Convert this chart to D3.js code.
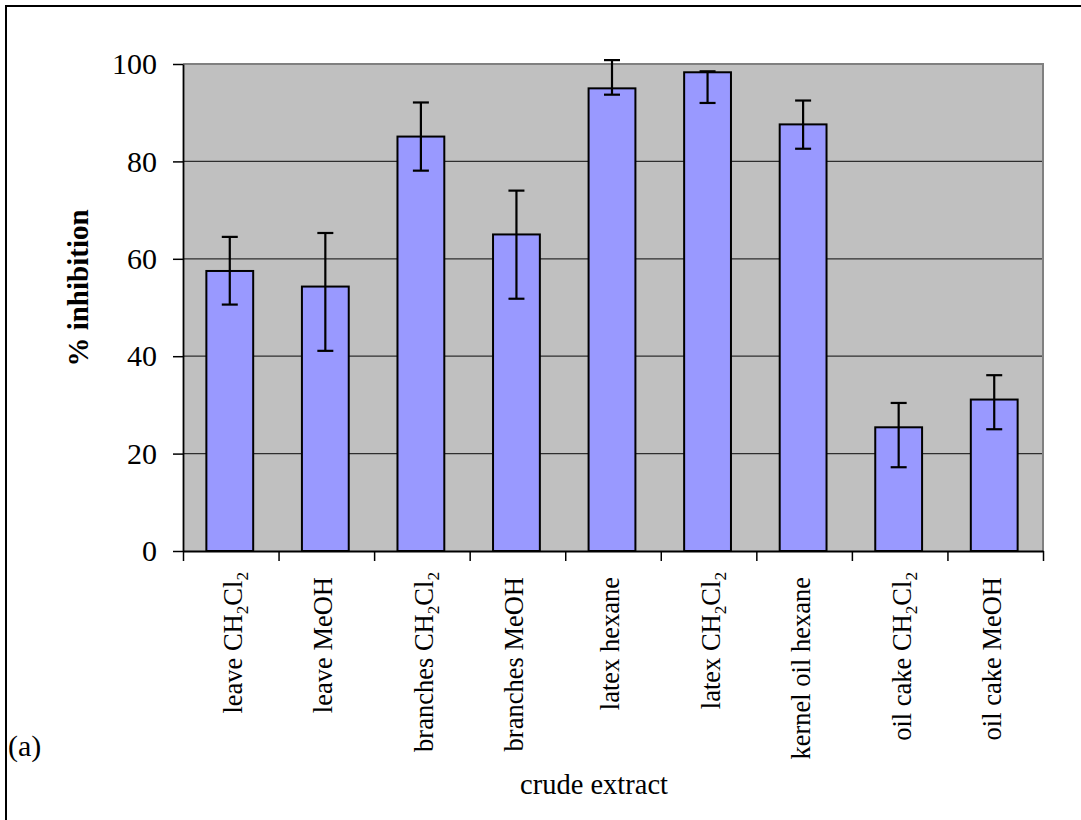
<!DOCTYPE html>
<html>
<head>
<meta charset="utf-8">
<script src="https://cdn.jsdelivr.net/npm/d3@7"></script>
<style>
  html, body { margin: 0; padding: 0; background: #fff; }
  svg { display: block; }
  text { font-family: "Liberation Serif", "Times New Roman", serif; fill: #000; }
</style>
</head>
<body>
<svg id="chart" width="1081" height="820"></svg>
<script>
// Crude extract inhibition, mean with upper/lower error limits (%)
const categories = ["leave CH2Cl2", "leave MeOH", "branches CH2Cl2", "branches MeOH",
  "latex hexane", "latex CH2Cl2", "kernel oil hexane", "oil cake CH2Cl2", "oil cake MeOH"];
const inhibition = [57.5, 54.3, 85.1, 65.0, 95.0, 98.3, 87.6, 25.4, 31.1];
const errHigh    = [64.5, 65.3, 92.1, 74.0, 100.8, 98.5, 92.5, 30.4, 36.1];
const errLow     = [50.6, 41.1, 78.1, 51.8, 93.7, 92.0, 82.6, 17.2, 25.0];
const yTicks = [0, 20, 40, 60, 80, 100];
const yTitle = "% inhibition";
const xTitle = "crude extract";
const panelTag = "(a)";

const svg = d3.select("#chart");
const plot = { left: 183, right: 1043, top: 64, bottom: 551 };

// outer frame
svg.append("rect")
  .attr("x", 6).attr("y", 6).attr("width", 1200).attr("height", 1000)
  .attr("fill", "#fff").attr("stroke", "#000").attr("stroke-width", 2);

const x = d3.scaleBand(categories, [plot.left, plot.right]).padding(0);
const xEdge = d3.scaleLinear([0, categories.length], [plot.left, plot.right]);
const y = d3.scaleLinear([0, 100], [plot.bottom, plot.top]);

// plot area background
svg.append("rect")
  .attr("x", plot.left).attr("y", plot.top)
  .attr("width", plot.right - plot.left).attr("height", plot.bottom - plot.top)
  .attr("fill", "#C0C0C0");

// horizontal grid lines
svg.append("g").selectAll("line")
  .data(yTicks.filter(t => t > 0 && t < 100))
  .join("line")
  .attr("x1", plot.left).attr("x2", plot.right)
  .attr("y1", d => y(d)).attr("y2", d => y(d))
  .attr("stroke", "#2e2e2e").attr("stroke-width", 1.3);

// plot area top/right border
svg.append("path")
  .attr("d", `M${plot.left},${y(100)}H${plot.right}V${plot.bottom}`)
  .attr("fill", "none").attr("stroke", "#808080").attr("stroke-width", 2);

// bars
const barW = x.bandwidth() * 0.49;
svg.append("g").selectAll("rect")
  .data(categories)
  .join("rect")
  .attr("x", d => x(d) + (x.bandwidth() - barW) / 2 - 1)
  .attr("width", barW)
  .attr("y", (d, i) => y(inhibition[i]))
  .attr("height", (d, i) => y(0) - y(inhibition[i]))
  .attr("fill", "#9999FF")
  .attr("stroke", "#000").attr("stroke-width", 2);

// error bars
const capHalf = 8;
const eb = svg.append("g").attr("stroke", "#000").attr("stroke-width", 2.2);
categories.forEach((c, i) => {
  const cx = x(c) + x.bandwidth() / 2 - 1;
  eb.append("line").attr("x1", cx).attr("x2", cx)
    .attr("y1", y(errHigh[i])).attr("y2", y(errLow[i]));
  eb.append("line").attr("x1", cx - capHalf).attr("x2", cx + capHalf)
    .attr("y1", y(errHigh[i])).attr("y2", y(errHigh[i]));
  eb.append("line").attr("x1", cx - capHalf).attr("x2", cx + capHalf)
    .attr("y1", y(errLow[i])).attr("y2", y(errLow[i]));
});

// y axis
const yAxis = svg.append("g")
  .attr("transform", `translate(${plot.left},0)`)
  .call(d3.axisLeft(y).tickValues(yTicks).tickSize(10).tickPadding(16).tickSizeOuter(0));
yAxis.select(".domain").attr("stroke", "#000").attr("stroke-width", 1.8);
yAxis.selectAll(".tick line").attr("stroke", "#000").attr("stroke-width", 1.5);
yAxis.selectAll(".tick text")
  .style("font-family", '"Liberation Serif", serif')
  .style("font-size", "30px").attr("fill", "#000");

// x axis: ticks at category boundaries
const xAxis = svg.append("g")
  .attr("transform", `translate(0,${plot.bottom})`)
  .call(d3.axisBottom(xEdge).ticks(categories.length).tickSize(10).tickSizeOuter(0).tickFormat(""));
xAxis.select(".domain").attr("stroke", "#000").attr("stroke-width", 1.8);
xAxis.selectAll(".tick line").attr("stroke", "#000").attr("stroke-width", 1.5);

// category labels, rotated; digits in chemical formulae drawn as subscripts
const labelSize = 26.5;
categories.forEach(c => {
  const hasSub = /\d/.test(c);
  const cx = x(c) + x.bandwidth() / 2;
  const t = svg.append("text")
    .attr("transform", `translate(${cx + (hasSub ? 11 : 6)},${hasSub ? 572 : 577}) rotate(-90)`)
    .attr("text-anchor", "end")
    .style("font-size", labelSize + "px");
  const parts = c.split(/(\d)/).filter(s => s.length);
  let shifted = false;
  parts.forEach(p => {
    const isSub = /^\d$/.test(p);
    const ts = t.append("tspan").text(p);
    if (isSub) {
      ts.style("font-size", (labelSize * 0.65) + "px").attr("dy", shifted ? 0 : 6);
      shifted = true;
    } else {
      ts.attr("dy", shifted ? -6 : 0);
      shifted = false;
    }
  });
});

// axis titles
svg.append("text")
  .attr("transform", "translate(88,288) rotate(-90)")
  .attr("text-anchor", "middle")
  .style("font-size", "29px").style("font-weight", "bold")
  .text(yTitle);

svg.append("text")
  .attr("x", 594).attr("y", 794)
  .attr("text-anchor", "middle")
  .style("font-size", "28.5px")
  .text(xTitle);

svg.append("text")
  .attr("x", 8).attr("y", 756)
  .style("font-size", "30px")
  .text(panelTag);
</script>
</body>
</html>
